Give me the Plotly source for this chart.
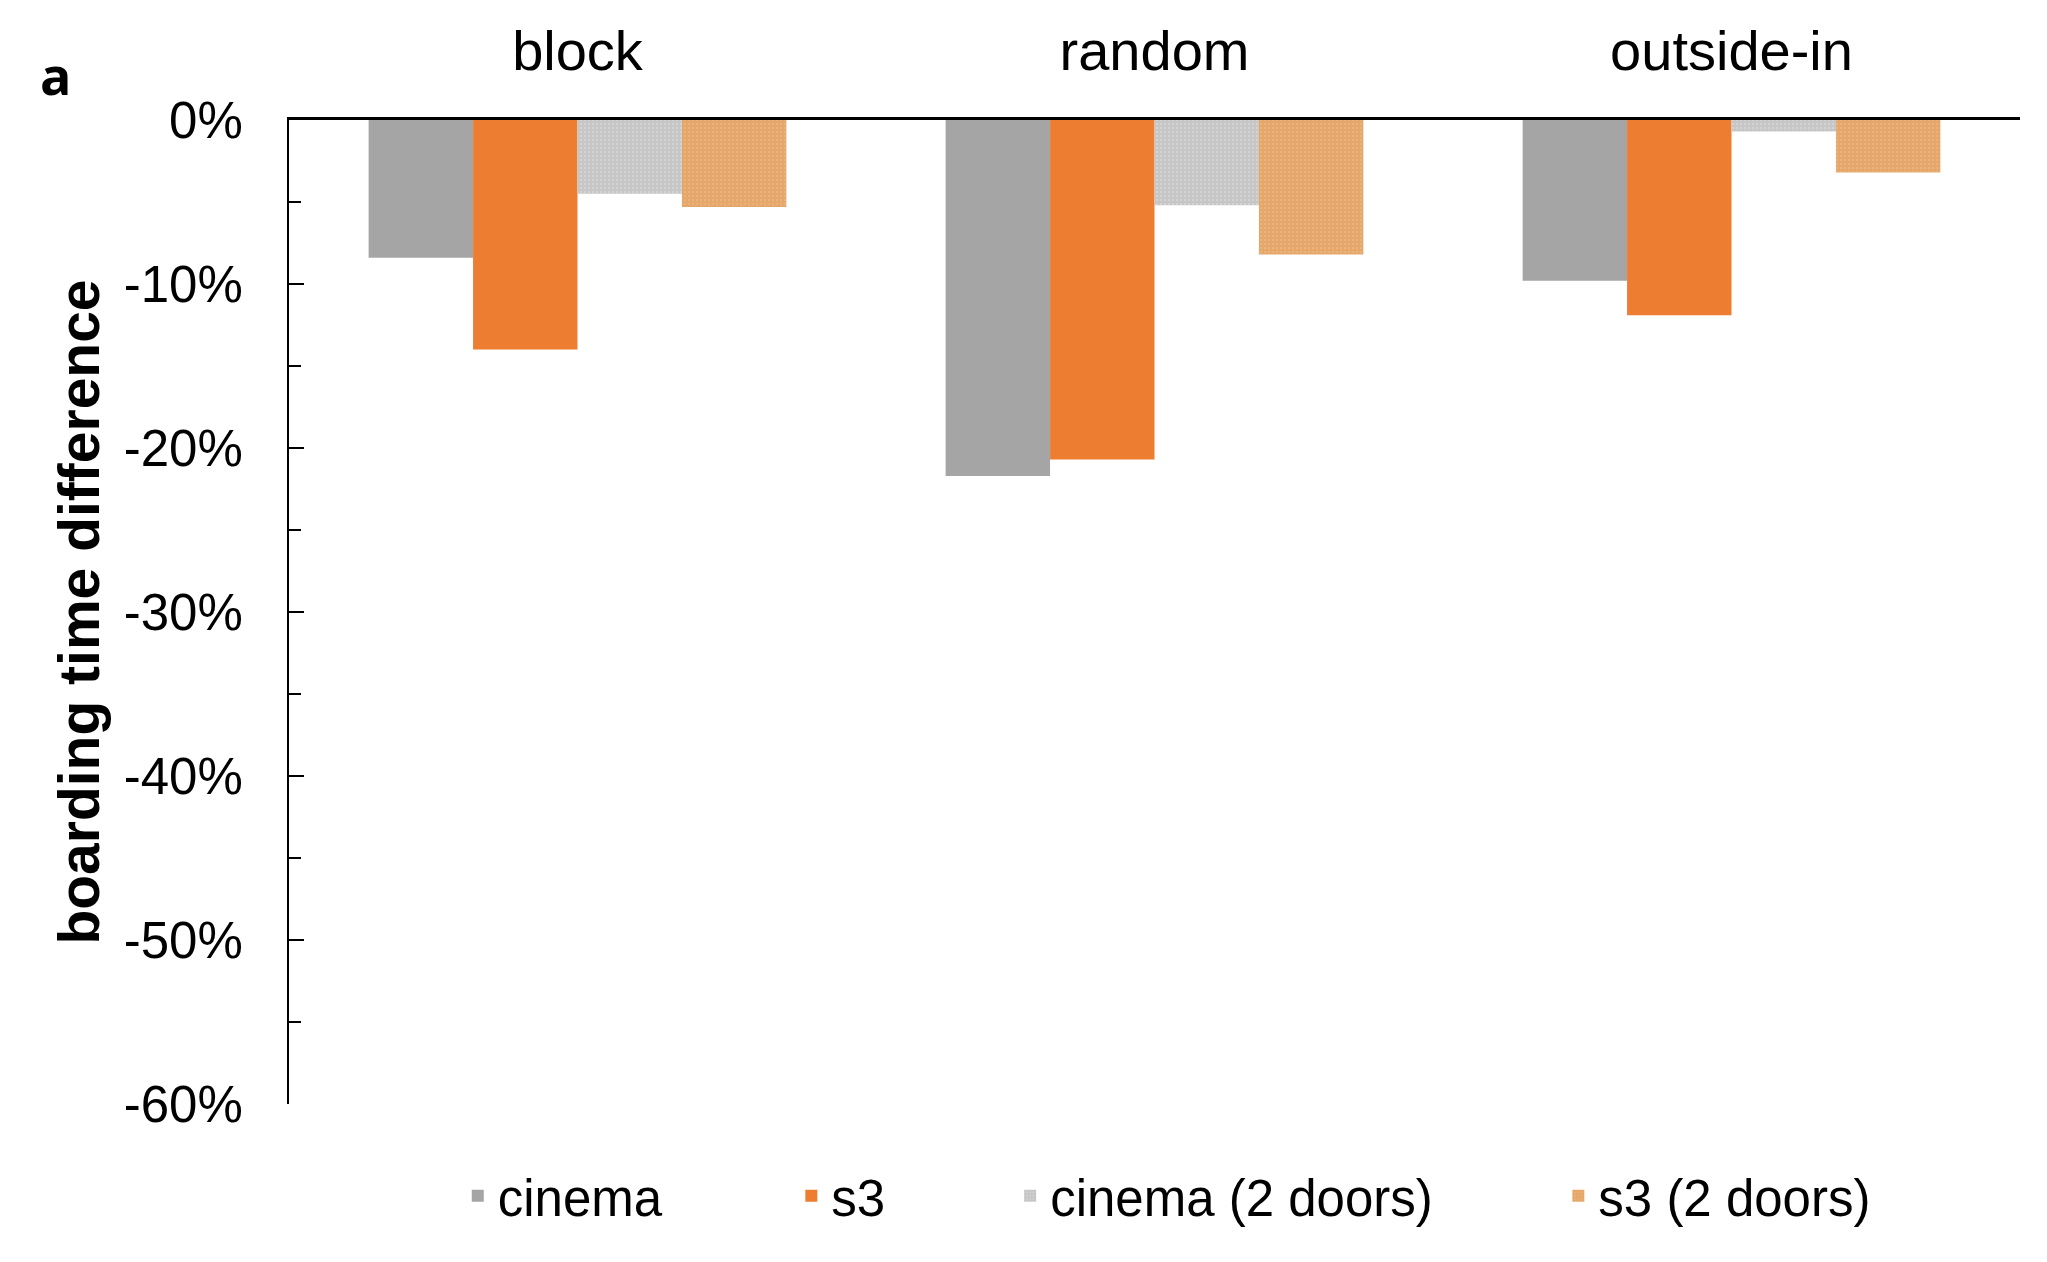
import plotly.graph_objects as go

categories = ["block", "random", "outside-in"]
cinema = [-0.084, -0.217, -0.098]
s3 = [-0.140, -0.207, -0.119]
cinema_2doors = [-0.045, -0.052, -0.007]
s3_2doors = [-0.053, -0.082, -0.032]

y_tickvals = [0, -0.1, -0.2, -0.3, -0.4, -0.5, -0.6]
y_ticktext = ["0%", "-10%", "-20%", "-30%", "-40%", "-50%", "-60%"]

FONT = "Liberation Sans, Arial, sans-serif"
GRAY = "#A5A5A5"
ORANGE = "#ED7D31"

fig = go.Figure()
fig.add_trace(go.Bar(x=categories, y=cinema, name="cinema", marker_color=GRAY,
                     marker_line_width=0, legend="legend"))
fig.add_trace(go.Bar(x=categories, y=s3, name="s3", marker_color=ORANGE,
                     marker_line_width=0, legend="legend2"))
fig.add_trace(go.Bar(x=categories, y=cinema_2doors, name="cinema (2 doors)",
                     marker=dict(color="white", line_width=0,
                                 pattern=dict(shape=".", fgcolor="#8E8E8E", bgcolor="white",
                                              size=4, solidity=0.85, fillmode="overlay")),
                     legend="legend3"))
fig.add_trace(go.Bar(x=categories, y=s3_2doors, name="s3 (2 doors)",
                     marker=dict(color="#F8DAA8", line_width=0,
                                 pattern=dict(shape=".", fgcolor="#D2732E", bgcolor="#F8DAA8",
                                              size=4, solidity=0.85, fillmode="overlay")),
                     legend="legend4"))

leg_common = dict(orientation="h", yanchor="middle", y=-0.0935, xanchor="left",
                  font=dict(family=FONT, size=51, color="black"),
                  bgcolor="rgba(0,0,0,0)", borderwidth=0)

fig.update_layout(
    width=2039, height=1254,
    margin=dict(l=281, r=27, t=112, b=158, autoexpand=False),
    paper_bgcolor="white", plot_bgcolor="white",
    barmode="group", bargap=0.276, bargroupgap=0,
    font=dict(family=FONT, size=50, color="black"),
    showlegend=True,
    legend=dict(x=0.0975, **leg_common),
    legend2=dict(x=0.2902, **leg_common),
    legend3=dict(x=0.4166, **leg_common),
    legend4=dict(x=0.7333, **leg_common),
    xaxis=dict(side="top", showline=True, linecolor="black", linewidth=3,
               ticks="", showgrid=False, zeroline=False, automargin=False,
               tickfont=dict(family=FONT, size=56, color="black"),
               ticklabelstandoff=25),
    yaxis=dict(range=[-0.6, 0], showline=True, linecolor="black", linewidth=2,
               tickvals=y_tickvals, ticktext=y_ticktext, automargin=False,
               ticks="inside", ticklen=15, tickwidth=2, tickcolor="black",
               minor=dict(dtick=0.05, ticks="inside", ticklen=12, tickwidth=2, tickcolor="black"),
               showgrid=False, zeroline=False,
               tickfont=dict(family=FONT, size=51, color="black"),
               ticklabelstandoff=34,
               title=dict(text="<b>boarding time difference</b>", standoff=6,
                          font=dict(family=FONT, size=57, color="black"))),
)

fig.add_annotation(text="<b>a</b>", xref="paper", yref="paper", x=-0.135, y=1.046,
                   showarrow=False, xanchor="center", yanchor="middle",
                   font=dict(family="Open Sans, Liberation Sans, sans-serif", size=52, color="black"))

fig.write_html("out.html")
